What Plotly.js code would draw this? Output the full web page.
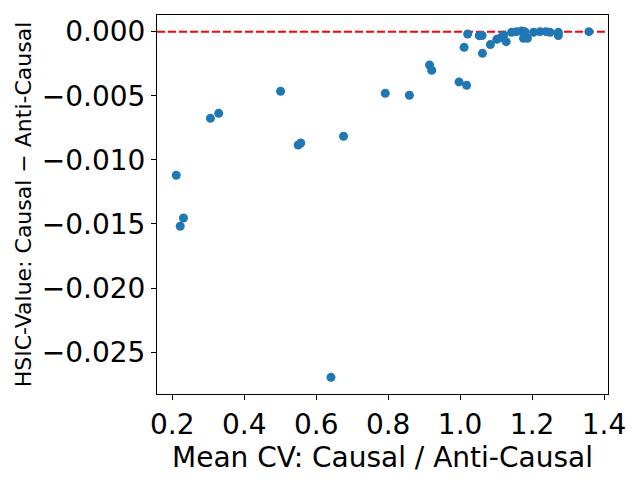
<!DOCTYPE html>
<html>
<head>
<meta charset="utf-8">
<script src="https://cdn.plot.ly/plotly-3.0.1.min.js"></script>
<style>body{margin:0;padding:0;background:#fff}#plot{width:640px;height:480px}</style>
</head>
<body>
<div id="plot"></div>
<script>
const meanCV = [0.211, 0.231, 0.222, 0.306, 0.329, 0.501, 0.550, 0.557, 0.676, 0.792, 0.859, 0.915, 0.921, 0.641,
  0.997, 1.018, 1.011, 1.021, 1.053, 1.061, 1.062, 1.084, 1.102, 1.113, 1.128, 1.121, 1.143, 1.157, 1.171, 1.176,
  1.187, 1.180, 1.204, 1.222, 1.239, 1.250, 1.273, 1.273, 1.358];
const hsicDiff = [-0.0112, -0.01453, -0.01518, -0.00676, -0.00637, -0.00465, -0.00884, -0.00868, -0.00816, -0.00481,
  -0.00496, -0.0026, -0.00301, -0.02696,
  -0.00392, -0.00418, -0.00122, -0.00018, -0.00031, -0.0003, -0.00169, -0.00101, -0.0006, -0.00047, -0.00078,
  -0.00026, -0.00005, 0.0, 0.00005, -0.00052, -0.00052, 0.0, -0.00005, 0.0, 0.0, -0.00005, -0.00005, -0.0003, 0.0];
const xRange = [0.1575, 1.411];
const yRange = [-0.02826, 0.0013];
const xTicks = [0.2, 0.4, 0.6, 0.8, 1.0, 1.2, 1.4];
const yTicks = [0.0, -0.005, -0.010, -0.015, -0.020, -0.025];
const refY = 0;

const font = 'DejaVu Sans, sans-serif';
const data = [{
  x: meanCV, y: hsicDiff, type: 'scatter', mode: 'markers',
  marker: {color: '#1f77b4', size: 9}, showlegend: false, hoverinfo: 'none'
}];
const layout = {
  width: 640, height: 480,
  margin: {l: 157, r: 32, t: 15, b: 86},
  paper_bgcolor: '#fff', plot_bgcolor: '#fff',
  font: {family: font, color: '#000'},
  xaxis: {
    range: xRange, tickvals: xTicks, tickformat: '.1f',
    showgrid: false, zeroline: false, showline: true, mirror: true,
    linecolor: '#000', linewidth: 1,
    ticks: 'outside', ticklen: 5, tickcolor: '#000', tickwidth: 1,
    tickfont: {size: 28, family: font},
    title: {text: 'Mean CV: Causal / Anti-Causal', font: {size: 28, family: font}, standoff: 0}
  },
  yaxis: {
    range: yRange, tickvals: yTicks, tickformat: '.3f',
    showgrid: false, zeroline: false, showline: true, mirror: true,
    linecolor: '#000', linewidth: 1,
    ticks: 'outside', ticklen: 5, tickcolor: '#000', tickwidth: 1,
    tickfont: {size: 28, family: font},
    title: {text: 'HSIC-Value: Causal \u2212 Anti-Causal', font: {size: 22, family: font}, standoff: 4}
  },
  shapes: [{
    type: 'line', xref: 'paper', x0: 0, x1: 1, yref: 'y', y0: refY, y1: refY,
    line: {color: 'red', width: 2, dash: '8px,3px'}, layer: 'below'
  }]
};
Plotly.newPlot('plot', data, layout, {staticPlot: true, displayModeBar: false});
</script>
</body>
</html>
